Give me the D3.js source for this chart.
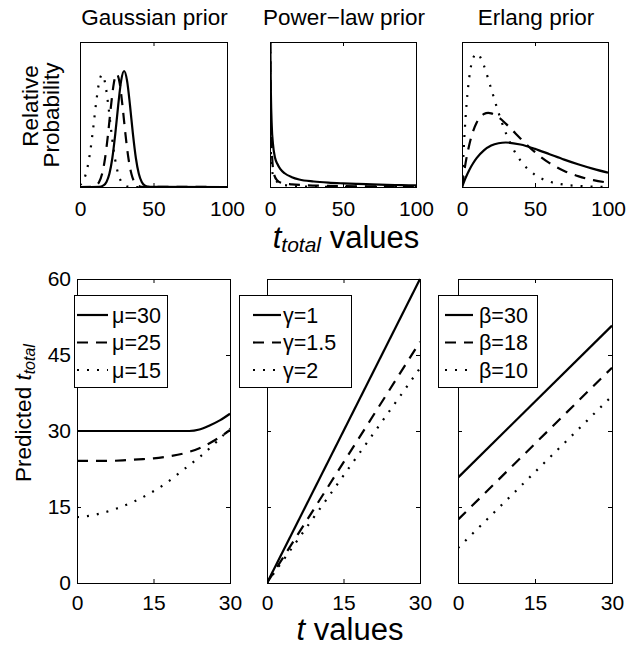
<!DOCTYPE html>
<html><head><meta charset="utf-8">
<script src="https://cdn.jsdelivr.net/npm/d3@7"></script>
<style>
body{margin:0;background:#fff}
svg text{font-family:"Liberation Sans",Arial,Helvetica,sans-serif;fill:#000}
</style>
</head><body>
<svg id="c" width="638" height="646"></svg>
<script>
// ---------- labels / ticks ----------
const priorTitles = ["Gaussian prior", "Power\u2212law prior", "Erlang prior"];
const priorXTicks = [0, 50, 100];
const predXTicks = [0, 15, 30];
const predYTicks = [0, 15, 30, 45, 60];
const gaussLegend = ["\u03bc=30", "\u03bc=25", "\u03bc=15"];
const powLegend = ["\u03b3=1", "\u03b3=1.5", "\u03b3=2"];
const erlLegend = ["\u03b2=30", "\u03b2=18", "\u03b2=10"];

// ---------- top row: relative probability vs t_total ----------
const gaussMu30 = [[0,0],[13,0.0015],[16,0.011],[18,0.035],[20,0.091],[22,0.2],[24,0.366],[26,0.565],[28,0.734],[30,0.8],[32,0.734],[34,0.565],[36,0.366],[38,0.2],[40,0.091],[42,0.035],[44,0.011],[47,0.0015],[100,0]];
const gaussMu25 = [[0,0],[8,0.0015],[11,0.011],[13,0.034],[15,0.089],[17,0.195],[19,0.357],[21,0.551],[23,0.715],[25,0.78],[27,0.715],[29,0.551],[31,0.357],[33,0.195],[35,0.089],[37,0.034],[39,0.011],[42,0.0015],[100,0]];
const gaussMu15 = [[0,0.014],[1,0.024],[3,0.06],[5,0.131],[7,0.248],[9,0.408],[11,0.583],[13,0.722],[15,0.775],[17,0.722],[19,0.583],[21,0.408],[23,0.248],[25,0.131],[27,0.06],[29,0.024],[31,0.008],[33,0.002],[36,0],[100,0]];

const powGamma1 = [[0.2,1.0],[0.6,0.65],[1.2,0.42],[2,0.3],[3.5,0.2],[5,0.16],[7,0.125],[10,0.095],[15,0.068],[20,0.052],[30,0.038],[40,0.03],[50,0.025],[60,0.021],[70,0.018],[80,0.015],[90,0.013],[100,0.011]];
const powGamma15 = [[0.15,1.0],[0.5,0.55],[1,0.3],[1.5,0.2],[2,0.13],[3,0.08],[5,0.045],[8,0.028],[15,0.018],[25,0.012],[40,0.008],[60,0.005],[100,0.003]];
const powGamma2 = [[0.1,1.0],[0.25,0.55],[0.5,0.3],[1,0.16],[2,0.085],[4,0.045],[7,0.022],[12,0.01],[20,0.004],[40,0.001],[100,0]];

const erlBeta30 = [[0,0],[2.5,0.064],[5,0.118],[7.5,0.162],[10,0.199],[15,0.253],[20,0.286],[25,0.302],[30,0.307],[40,0.293],[50,0.263],[60,0.226],[70,0.189],[80,0.155],[90,0.125],[100,0.099]];
const erlBeta18 = [[0,0],[2.5,0.168],[5,0.292],[7.5,0.382],[10,0.443],[12.5,0.482],[15,0.503],[18,0.511],[20,0.508],[25,0.481],[30,0.437],[35,0.386],[40,0.335],[50,0.24],[60,0.165],[70,0.111],[80,0.073],[90,0.047],[100,0.03]];
const erlBeta10 = [[0,0],[1,0.226],[2.5,0.487],[5,0.758],[7.5,0.886],[10,0.92],[12.5,0.896],[15,0.837],[20,0.677],[25,0.513],[30,0.373],[35,0.264],[40,0.183],[50,0.084],[60,0.037],[70,0.016],[80,0.007],[90,0.003],[100,0.001]];

// ---------- bottom row: predicted t_total vs t ----------
const predGaussMu30 = [[0,30],[5,30],[10,30],[15,30],[20,30],[22,30],[24,30.3],[26,31.1],[28,32.1],[30,33.4]];
const predGaussMu25 = [[0,24.1],[3,24.1],[6,24.1],[9,24.2],[12,24.4],[15,24.6],[18,25],[21,25.6],[24,26.6],[26,27.6],[28,28.8],[30,30.2]];
const predGaussMu15 = [[0,13],[2,13.2],[4.5,13.7],[7.8,14.7],[11,16],[14.3,17.7],[17.6,19.8],[20.8,22.3],[24.1,24.9],[27.4,27.9],[30,30.5]];
const predPowGamma1 = [[0,0],[30,60]];
const predPowGamma15 = [[0,0],[30,47.6]];
const predPowGamma2 = [[0,0],[30,42.4]];
const predErlBeta30 = [[0,20.8],[30,50.8]];
const predErlBeta18 = [[0,12.5],[30,42.5]];
const predErlBeta10 = [[0,6.9],[30,36.9]];

// ---------- drawing ----------
const FONT = '"Liberation Sans", Arial, Helvetica, sans-serif';
const dashes = [null, "11,8", "2,8"];
const LW = 2.2;
const TICK_FS = 21;
const svg = d3.select("#c");
const defs = svg.append("defs");

const topPanels = [
  {x0:80, x1:227, series:[gaussMu30, gaussMu25, gaussMu15]},
  {x0:270, x1:416, series:[powGamma1, powGamma15, powGamma2]},
  {x0:462, x1:608, series:[erlBeta30, erlBeta18, erlBeta10]}
];
const TOP_Y0 = 42, TOP_Y1 = 187;

const botPanels = [
  {x0:77, x1:230, series:[predGaussMu30, predGaussMu25, predGaussMu15], legend:gaussLegend, box:[74,167], sample:[77,108], tx:112},
  {x0:267, x1:420, series:[predPowGamma1, predPowGamma15, predPowGamma2], legend:powLegend, box:[239,351], sample:[253,281], tx:283},
  {x0:458, x1:612, series:[predErlBeta30, predErlBeta18, predErlBeta10], legend:erlLegend, box:[438,537], sample:[445,473], tx:479}
];
const BOT_Y0 = 279, BOT_Y1 = 583;

function styleAxis(g, fs){
  g.attr("font-family", FONT).attr("font-size", fs);
  g.select(".domain").remove();
  g.selectAll(".tick line").attr("stroke", "#000").attr("stroke-width", 1);
  g.selectAll(".tick text").attr("fill", "#000");
}

function drawLines(g, x, y, series, clipId, curve){
  const line = d3.line().x(d => x(d[0])).y(d => y(d[1])).curve(curve);
  const lg = g.append("g").attr("clip-path", `url(#${clipId})`);
  series.forEach((s, i) => {
    lg.append("path").datum(s).attr("d", line)
      .attr("fill", "none").attr("stroke", "#000").attr("stroke-width", LW)
      .attr("stroke-dasharray", dashes[i]);
  });
}

// top row
topPanels.forEach((p, i) => {
  const x = d3.scaleLinear().domain([0, 100]).range([p.x0, p.x1]);
  const y = d3.scaleLinear().domain([0, 1]).range([TOP_Y1, TOP_Y0]);
  const g = svg.append("g");
  const cid = "ct" + i;
  defs.append("clipPath").attr("id", cid).append("rect")
    .attr("x", p.x0).attr("y", TOP_Y0).attr("width", p.x1 - p.x0).attr("height", TOP_Y1 - TOP_Y0);
  drawLines(g, x, y, p.series, cid, d3.curveMonotoneX);
  g.append("rect").attr("x", p.x0 + 0.5).attr("y", TOP_Y0 + 0.5)
    .attr("width", p.x1 - p.x0).attr("height", TOP_Y1 - TOP_Y0)
    .attr("fill", "none").attr("stroke", "#000").attr("stroke-width", 1);
  g.append("g").attr("transform", `translate(0,${TOP_Y1})`)
    .call(d3.axisBottom(x).tickValues(priorXTicks).tickSizeInner(-4).tickSizeOuter(0).tickPadding(14))
    .call(a => styleAxis(a, TICK_FS));
  g.append("g").attr("transform", `translate(0,${TOP_Y0})`)
    .call(d3.axisTop(x).tickValues(priorXTicks).tickSizeInner(-4).tickSizeOuter(0).tickFormat(""))
    .call(a => styleAxis(a, TICK_FS));
  svg.append("text").attr("x", (p.x0 + p.x1) / 2 + 1).attr("y", 25)
    .attr("text-anchor", "middle").attr("font-size", 22.5).text(priorTitles[i]);
});

// top y label
svg.append("text").attr("transform", "translate(38,106) rotate(-90)")
  .attr("text-anchor", "middle").attr("font-size", 22.5).text("Relative");
svg.append("text").attr("transform", "translate(58.5,115) rotate(-90)")
  .attr("text-anchor", "middle").attr("font-size", 22.5).text("Probability");

// top x label
const tl = svg.append("text").attr("x", 346).attr("y", 248).attr("text-anchor", "middle").attr("font-size", 31);
tl.append("tspan").attr("font-style", "italic").text("t");
tl.append("tspan").attr("font-style", "italic").attr("font-size", 21).attr("dy", 4).text("total");
tl.append("tspan").attr("dy", -4).text(" values");

// bottom row
botPanels.forEach((p, i) => {
  const x = d3.scaleLinear().domain([0, 30]).range([p.x0, p.x1]);
  const y = d3.scaleLinear().domain([0, 60]).range([BOT_Y1, BOT_Y0]);
  const g = svg.append("g");
  const cid = "cb" + i;
  defs.append("clipPath").attr("id", cid).append("rect")
    .attr("x", p.x0).attr("y", BOT_Y0 - 1).attr("width", p.x1 - p.x0 + 1).attr("height", BOT_Y1 - BOT_Y0 + 2);
  drawLines(g, x, y, p.series, cid, d3.curveMonotoneX);
  g.append("rect").attr("x", p.x0 + 0.5).attr("y", BOT_Y0 + 0.5)
    .attr("width", p.x1 - p.x0).attr("height", BOT_Y1 - BOT_Y0)
    .attr("fill", "none").attr("stroke", "#000").attr("stroke-width", 1);
  g.append("g").attr("transform", `translate(0,${BOT_Y1})`)
    .call(d3.axisBottom(x).tickValues(predXTicks).tickSizeInner(-4).tickSizeOuter(0).tickPadding(12))
    .call(a => styleAxis(a, TICK_FS));
  g.append("g").attr("transform", `translate(0,${BOT_Y0})`)
    .call(d3.axisTop(x).tickValues(predXTicks).tickSizeInner(-4).tickSizeOuter(0).tickFormat(""))
    .call(a => styleAxis(a, TICK_FS));
  const left = d3.axisLeft(y).tickValues(predYTicks).tickSizeInner(-4).tickSizeOuter(0).tickPadding(6);
  if (i > 0) left.tickFormat("");
  g.append("g").attr("transform", `translate(${p.x0},0)`).call(left).call(a => styleAxis(a, TICK_FS));
  g.append("g").attr("transform", `translate(${p.x1},0)`)
    .call(d3.axisRight(y).tickValues(predYTicks).tickSizeInner(-4).tickSizeOuter(0).tickFormat(""))
    .call(a => styleAxis(a, TICK_FS));

  // legend
  const lgd = g.append("g");
  const rowY = [315, 342.5, 370];
  lgd.append("rect").attr("x", p.box[0] + 0.5).attr("y", 295.5)
    .attr("width", p.box[1] - p.box[0]).attr("height", 92)
    .attr("fill", "#fff").attr("stroke", "#000").attr("stroke-width", 1);
  p.legend.forEach((lab, k) => {
    lgd.append("line").attr("x1", p.sample[0]).attr("x2", p.sample[1])
      .attr("y1", rowY[k]).attr("y2", rowY[k])
      .attr("stroke", "#000").attr("stroke-width", LW).attr("stroke-dasharray", dashes[k]);
    lgd.append("text").attr("x", p.tx).attr("y", rowY[k] + 7.5).attr("font-size", 21.5).text(lab);
  });
});

// bottom y label
const yl = svg.append("text").attr("transform", "translate(31,413) rotate(-90)")
  .attr("text-anchor", "middle").attr("font-size", 22.5);
yl.append("tspan").text("Predicted ");
yl.append("tspan").attr("font-style", "italic").text("t");
yl.append("tspan").attr("font-style", "italic").attr("font-size", 16).attr("dy", 4).text("total");

// bottom x label
const bl = svg.append("text").attr("x", 350).attr("y", 640).attr("text-anchor", "middle").attr("font-size", 31);
bl.append("tspan").attr("font-style", "italic").text("t");
bl.append("tspan").text(" values");
</script>
</body></html>
